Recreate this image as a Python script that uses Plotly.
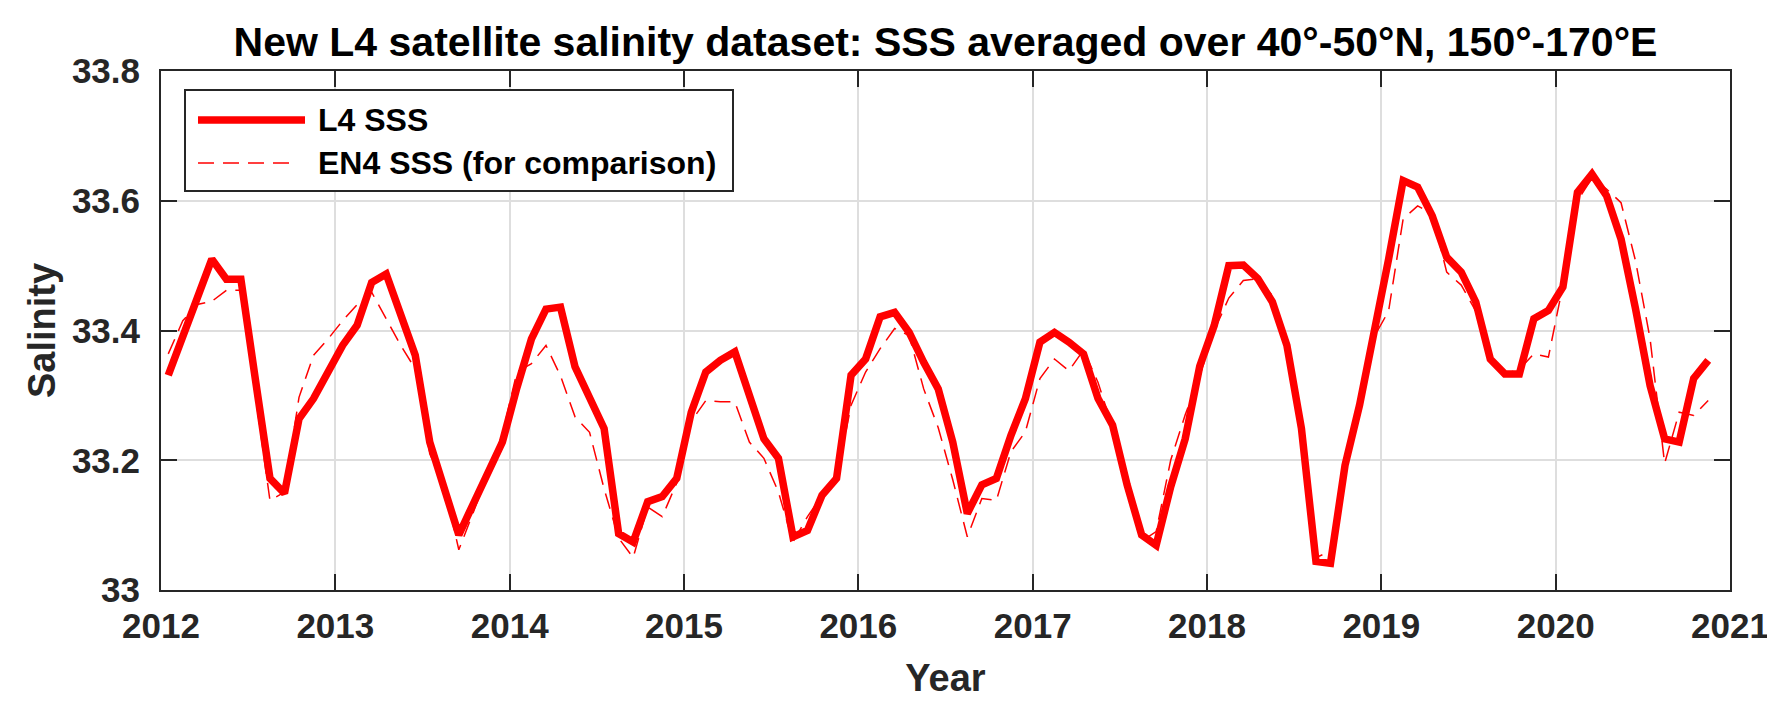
import plotly.graph_objects as go

# ---- data (monthly means, Jan 2012 - Nov 2020) ----
years = list(range(2012, 2021))
month_mid = [(m - 0.5) / 12 for m in range(1, 13)]

l4_sss = [
    # 2012
    33.331, 33.390, 33.451, 33.510, 33.479, 33.479, 33.324, 33.172, 33.149, 33.264, 33.295, 33.336,
    # 2013
    33.377, 33.408, 33.474, 33.487, 33.423, 33.362, 33.228, 33.156, 33.085, 33.133, 33.181, 33.228,
    # 2014
    33.312, 33.387, 33.433, 33.436, 33.344, 33.295, 33.249, 33.087, 33.074, 33.136, 33.144, 33.172,
    # 2015
    33.274, 33.336, 33.354, 33.367, 33.300, 33.233, 33.203, 33.082, 33.092, 33.146, 33.172, 33.331,
    # 2016
    33.356, 33.421, 33.428, 33.397, 33.351, 33.310, 33.228, 33.118, 33.162, 33.172, 33.238, 33.295,
    # 2017
    33.382, 33.397, 33.382, 33.364, 33.295, 33.254, 33.162, 33.085, 33.069, 33.159, 33.233, 33.345,
    # 2018
    33.408, 33.500, 33.501, 33.480, 33.444, 33.377, 33.249, 33.044, 33.041, 33.192, 33.285, 33.392,
    # 2019
    33.510, 33.631, 33.621, 33.577, 33.513, 33.490, 33.444, 33.356, 33.333, 33.333, 33.418, 33.431,
    # 2020 (to Nov)
    33.467, 33.613, 33.641, 33.608, 33.541, 33.433, 33.315, 33.233, 33.228, 33.326, 33.354,
]

en4_sss = [
    # 2012
    33.364, 33.415, 33.440, 33.445, 33.462, 33.462, 33.300, 33.138, 33.151, 33.297, 33.362, 33.387,
    # 2013
    33.415, 33.440, 33.459, 33.418, 33.377, 33.341, 33.210, 33.160, 33.062, 33.120, 33.180, 33.240,
    # 2014
    33.336, 33.349, 33.377, 33.330, 33.267, 33.243, 33.156, 33.080, 33.050, 33.128, 33.113, 33.165,
    # 2015
    33.260, 33.292, 33.290, 33.290, 33.228, 33.203, 33.151, 33.074, 33.113, 33.146, 33.170, 33.285,
    # 2016
    33.336, 33.372, 33.403, 33.392, 33.310, 33.250, 33.170, 33.082, 33.141, 33.138, 33.213, 33.244,
    # 2017
    33.326, 33.356, 33.338, 33.370, 33.320, 33.250, 33.150, 33.075, 33.090, 33.200, 33.270, 33.330,
    # 2018
    33.400, 33.450, 33.477, 33.480, 33.454, 33.377, 33.250, 33.050, 33.060, 33.180, 33.290, 33.390,
    # 2019
    33.430, 33.572, 33.592, 33.580, 33.490, 33.470, 33.430, 33.360, 33.333, 33.340, 33.364, 33.359,
    # 2020 (to Nov)
    33.470, 33.600, 33.635, 33.618, 33.597, 33.507, 33.387, 33.195, 33.274, 33.269, 33.292,
]

x_time = [y + m for y in years for m in month_mid]
x_l4 = x_time[:len(l4_sss)]
x_en4 = x_time[:len(en4_sss)]

x_ticks = list(range(2012, 2022))
y_ticks = [33.0, 33.2, 33.4, 33.6, 33.8]
y_ticklabels = ["33", "33.2", "33.4", "33.6", "33.8"]

title_text = "New L4 satellite salinity dataset: SSS averaged over 40°-50°N, 150°-170°E"
legend_names = ["L4 SSS", "EN4 SSS (for comparison)"]

# ---- styling ----
FONT = "Liberation Sans"
AX = "#262626"
RED = "#ff0000"
W, H = 1775, 704
L, R, T, B = 153, 53, 63, 122

fig = go.Figure()
fig.add_trace(go.Scatter(x=x_en4, y=en4_sss, mode="lines", name=legend_names[1],
                         line=dict(color=RED, width=1.5, dash="16px,9px"), showlegend=False))
fig.add_trace(go.Scatter(x=x_l4, y=l4_sss, mode="lines", name=legend_names[0],
                         line=dict(color=RED, width=7.5), showlegend=False))

axis_common = dict(
    showline=True, linecolor=AX, linewidth=2, mirror="ticks",
    ticks="inside", ticklen=16, tickwidth=2, tickcolor=AX,
    showgrid=True, gridcolor="#dedede", gridwidth=1.5, zeroline=False,
    tickfont=dict(family=FONT, size=35, color=AX, weight="bold"),
)

fig.update_xaxes(range=[2012, 2021], tickmode="array", tickvals=x_ticks,
                 ticktext=[str(v) for v in x_ticks], ticklabelstandoff=4,
                 title=dict(text="<b>Year</b>", font=dict(family=FONT, size=38, color=AX), standoff=20),
                 **axis_common)
fig.update_yaxes(range=[33.0, 33.8], tickmode="array", tickvals=y_ticks,
                 ticktext=y_ticklabels, ticklabelstandoff=12,
                 title=dict(text="<b>Salinity</b>", font=dict(family=FONT, size=38, color=AX), standoff=5),
                 **axis_common)

# legend box drawn in plot-paper coordinates
def px_x(p):
    return (p - L) / (W - L - R)

def px_y(p):
    return (H - B - p) / (H - T - B)

fig.add_shape(type="rect", xref="paper", yref="paper",
              x0=px_x(177), x1=px_x(725), y0=px_y(183), y1=px_y(82),
              line=dict(color=AX, width=2), fillcolor="white", layer="above")
fig.add_shape(type="line", xref="paper", yref="paper",
              x0=px_x(190), x1=px_x(297), y0=px_y(112), y1=px_y(112),
              line=dict(color=RED, width=7.5), layer="above")
fig.add_shape(type="line", xref="paper", yref="paper",
              x0=px_x(190), x1=px_x(285), y0=px_y(155), y1=px_y(155),
              line=dict(color=RED, width=1.5, dash="16px,9px"), layer="above")
for name, yy in zip(legend_names, [112, 155]):
    fig.add_annotation(xref="paper", yref="paper", x=px_x(308), y=px_y(yy),
                       text=f"<b>{name}</b>", showarrow=False, xanchor="left", yanchor="middle",
                       font=dict(family=FONT, size=32, color="black"))

fig.update_layout(
    width=W, height=H,
    margin=dict(l=L, r=R, t=T, b=B, autoexpand=False),
    paper_bgcolor="white", plot_bgcolor="white",
    title=dict(text=f"<b>{title_text}</b>", x=0.5, xref="paper", xanchor="center",
               y=1 - 34 / H, yref="container", yanchor="middle",
               font=dict(family=FONT, size=41, color="black")),
    showlegend=False,
)

fig.write_html("out.html")
